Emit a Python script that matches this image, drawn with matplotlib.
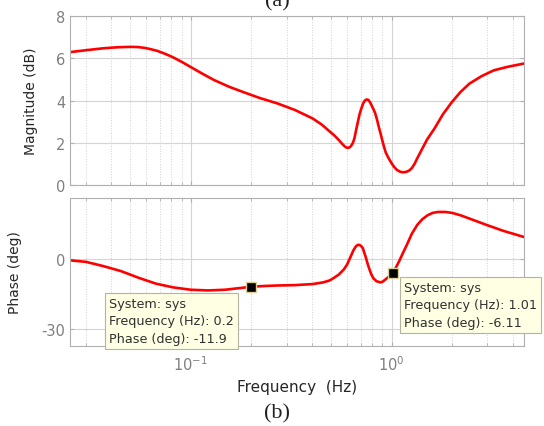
import matplotlib
matplotlib.use("Agg")
import matplotlib.pyplot as plt
from matplotlib.ticker import LogLocator, NullFormatter, FixedLocator

plt.rcParams['font.family'] = ['DejaVu Sans']
plt.rcParams['axes.unicode_minus'] = False

# Magnitude response (Hz, dB)
mag_freq = [0.0245, 0.030, 0.0365, 0.043, 0.050, 0.0545, 0.0589, 0.063, 0.068, 0.074,
            0.0813, 0.090, 0.100, 0.115, 0.131, 0.155, 0.181, 0.220, 0.270, 0.330,
            0.404, 0.450, 0.493, 0.520, 0.545, 0.565, 0.580, 0.590, 0.602, 0.614,
            0.626, 0.640, 0.652, 0.665, 0.679, 0.692, 0.706, 0.720, 0.735, 0.750,
            0.765, 0.780, 0.796, 0.812, 0.828, 0.845, 0.862, 0.880, 0.897, 0.915,
            0.934, 0.965, 1.000, 1.030, 1.060, 1.100, 1.140, 1.180, 1.220, 1.260,
            1.300, 1.340, 1.420, 1.500, 1.635, 1.800, 2.000, 2.200, 2.440, 2.800,
            3.230, 3.800, 4.560]
mag_db = [6.28, 6.38, 6.47, 6.52, 6.54, 6.53, 6.49, 6.43, 6.35, 6.22,
          6.05, 5.83, 5.58, 5.25, 4.96, 4.65, 4.41, 4.12, 3.86, 3.55,
          3.15, 2.85, 2.52, 2.33, 2.13, 1.96, 1.85, 1.79, 1.76, 1.77,
          1.83, 1.98, 2.20, 2.60, 3.00, 3.35, 3.62, 3.85, 4.00, 4.05,
          4.03, 3.92, 3.75, 3.58, 3.39, 3.10, 2.76, 2.44, 2.13, 1.82,
          1.54, 1.27, 1.02, 0.85, 0.72, 0.63, 0.60, 0.62, 0.68, 0.80,
          1.00, 1.26, 1.72, 2.15, 2.68, 3.35, 3.94, 4.40, 4.80, 5.15,
          5.43, 5.60, 5.75]

# Phase response (Hz, deg)
ph_freq = [0.0245, 0.030, 0.0366, 0.0448, 0.0547, 0.0668, 0.0815, 0.0996, 0.1216, 0.148,
           0.175, 0.202, 0.235, 0.271, 0.330, 0.404, 0.455, 0.490, 0.513, 0.545,
           0.578, 0.600, 0.626, 0.645, 0.663, 0.676, 0.690, 0.704, 0.718, 0.740,
           0.765, 0.790, 0.810, 0.840, 0.880, 0.905, 0.934, 0.970, 1.010, 1.050,
           1.090, 1.140, 1.190, 1.260, 1.340, 1.420, 1.510, 1.600, 1.700, 1.850,
           2.000, 2.200, 2.440, 2.970, 3.600, 4.600]
ph_deg = [-0.7, -1.4, -3.2, -5.3, -8.1, -10.6, -12.2, -13.2, -13.5, -13.2,
          -12.5, -11.9, -11.6, -11.4, -11.25, -10.8, -10.1, -9.3, -8.3, -6.8,
          -4.6, -2.5, 1.0, 3.5, 5.1, 5.7, 5.8, 5.3, 4.4, 1.0,
          -3.2, -6.5, -8.3, -9.6, -10.1, -9.7, -8.75, -7.6, -6.11, -3.8,
          -1.1, 2.5, 5.8, 10.5, 14.2, 16.6, 18.3, 19.3, 19.7, 19.7,
          19.3, 18.3, 16.9, 14.2, 11.7, 9.0]

# Data tips
tip_freq = [0.2, 1.01]
tip_phase = [-11.9, -6.11]
tip_texts = ["System: sys\nFrequency (Hz): 0.2\nPhase (deg): -11.9",
             "System: sys\nFrequency (Hz): 1.01\nPhase (deg): -6.11"]

mag_yticks = [0, 2, 4, 6, 8]
ph_yticks = [-30, 0]

W, H = 544, 427
fig = plt.figure(figsize=(W / 100, H / 100), dpi=100)

def px_axes(l, t, r, b):
    return fig.add_axes([l / W, 1 - b / H, (r - l) / W, (b - t) / H])

ax1 = px_axes(70, 17, 524, 186)
ax2 = px_axes(70, 199, 524, 347)

grey_tick = '#7f7f7f'
spine_c = '#b0b0b0'
for ax in (ax1, ax2):
    ax.set_xscale('log')
    ax.set_xlim(0.025, 4.56)
    ax.xaxis.set_minor_locator(LogLocator(base=10, subs=range(2, 10)))
    ax.xaxis.set_minor_formatter(NullFormatter())
    ax.grid(True, which='major', color='#d4d4d4', lw=0.8, ls='-')
    ax.grid(True, which='minor', axis='x', color='#d0d0d0', lw=0.7, ls=':')
    ax.tick_params(which='both', direction='in', top=True, right=True,
                   colors=spine_c, labelcolor=grey_tick, labelsize=10.5)
    ax.tick_params(which='major', length=3)
    ax.tick_params(which='minor', length=2)
    for s in ax.spines.values():
        s.set_color(spine_c)
        s.set_linewidth(0.8)
    ax.set_axisbelow(True)

ax1.plot(mag_freq, mag_db, color='#ff0000', lw=1.9, solid_joinstyle='round')
ax1.set_ylim(0, 8)
ax1.yaxis.set_major_locator(FixedLocator(mag_yticks))
ax1.tick_params(axis='x', labelbottom=False)
ax1.set_ylabel('Magnitude (dB)', fontsize=10, color='#262626')
ax1.yaxis.set_label_coords(-0.07, 0.5)

ax2.plot(ph_freq, ph_deg, color='#ff0000', lw=1.9, solid_joinstyle='round')
ax2.set_ylim(-37, 25.6)
ax2.yaxis.set_major_locator(FixedLocator(ph_yticks))
ax2.set_ylabel('Phase (deg)', fontsize=10, color='#262626')
ax2.yaxis.set_label_coords(-0.105, 0.5)
ax2.set_xlabel('Frequency  (Hz)', fontsize=11, color='#262626', labelpad=4)
ax2.tick_params(axis='x', pad=6)

ax2.plot(tip_freq, tip_phase, ls='none', marker='s', ms=7.5, mfc='black',
         mec='#d8cf9a', mew=1.0, zorder=5, clip_on=False)

box_style = dict(boxstyle='square,pad=0.35', fc='#ffffe4', ec='#b4b4a0', lw=0.8)
# tip boxes anchored by top-left corner (pixel positions of the reference)
tip_anchor_px = [(109, 298), (404, 282)]
for (xp, yp), txt in zip(tip_anchor_px, tip_texts):
    fig.text(xp / W, 1 - yp / H, txt, ha='left', va='top', fontsize=9.2,
             color='#303030', linespacing=1.45, bbox=box_style, zorder=10)

fig.text(0.51, 1 - 6 / H, '(a)', ha='center', va='baseline',
         fontsize=16, family='Liberation Serif', color='#202020')
fig.text(0.509, 1 - 418 / H, '(b)', ha='center', va='baseline',
         fontsize=16, family='Liberation Serif', color='#202020')

fig.savefig('out.png', dpi=100)
